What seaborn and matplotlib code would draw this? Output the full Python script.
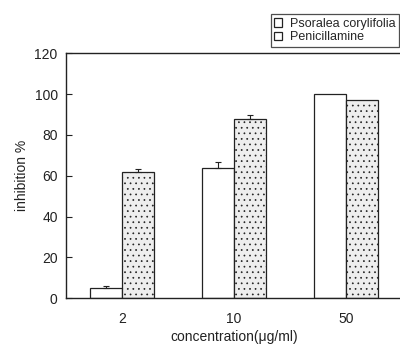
import matplotlib
matplotlib.use("Agg")
import matplotlib.pyplot as plt
import seaborn as sns
import pandas as pd

concentrations = ["2", "10", "50"]
psoralea = [5, 64, 100]
penicillamine = [62, 88, 97]
psoralea_err = [0.8, 2.5, 0.0]
penicillamine_err = [1.5, 1.5, 0.0]
series_names = ["Psoralea corylifolia", "Penicillamine"]

df = pd.DataFrame({
    "concentration": concentrations * 2,
    "inhibition": psoralea + penicillamine,
    "agent": [series_names[0]] * 3 + [series_names[1]] * 3,
})

sns.set_theme(style="white")
plt.rcParams["font.family"] = ["Liberation Sans", "DejaVu Sans"]
plt.rcParams["hatch.color"] = "#b0b0b0"
plt.rcParams["hatch.linewidth"] = 0.5

fig = plt.figure(figsize=(4, 3.5), dpi=100)
ax = fig.add_axes([0.165, 0.148, 0.84, 0.70])

sns.barplot(data=df, x="concentration", y="inhibition", hue="agent",
            order=concentrations, hue_order=series_names,
            palette=["white", "#eeeeee"], width=0.57, errorbar=None,
            edgecolor="#222222", linewidth=0.9, ax=ax)

hatches = ["", "..."]
for cont, h in zip(ax.containers, hatches):
    for bar in cont:
        bar.set_hatch(h)
        if h and hasattr(bar, "set_hatchcolor"):
            bar.set_hatchcolor("#b0b0b0")

# upper error caps on each bar
for cont, errs in zip(ax.containers, [psoralea_err, penicillamine_err]):
    for bar, e in zip(cont, errs):
        if e > 0:
            xc = bar.get_x() + bar.get_width() / 2
            ax.errorbar(xc, bar.get_height(), yerr=[[0], [e]], color="#222222",
                        capsize=2.5, elinewidth=0.8, capthick=0.8)

ax.set_ylim(0, 120)
ax.set_xlim(-0.5, 2.5)
ax.set_yticks(range(0, 121, 20))
ax.tick_params(axis="y", direction="in", length=4, width=0.8, labelsize=10,
               left=True, pad=6, colors="#222222")
ax.tick_params(axis="x", length=0, labelsize=10, pad=10, colors="#222222")
for s in ["left", "bottom", "top"]:
    ax.spines[s].set_color("#222222")
    ax.spines[s].set_linewidth(1.0)
ax.spines["right"].set_visible(False)

ax.set_ylabel("inhibition %", fontsize=10, color="#222222", labelpad=4)
ax.set_xlabel("concentration(\u03bcg/ml)", fontsize=10, color="#222222", labelpad=3)

leg = ax.legend(loc="lower right", bbox_to_anchor=(0.99, 1.027), fontsize=9,
                frameon=True, fancybox=False, edgecolor="#222222",
                handlelength=0.7, handleheight=0.7, handletextpad=0.6,
                borderpad=0.25, labelspacing=0.15, borderaxespad=0)
leg.get_frame().set_linewidth(0.9)
for hnd in leg.legend_handles:
    hnd.set_hatch("")
    hnd.set_facecolor("white")

fig.savefig("out.png", dpi=100)
